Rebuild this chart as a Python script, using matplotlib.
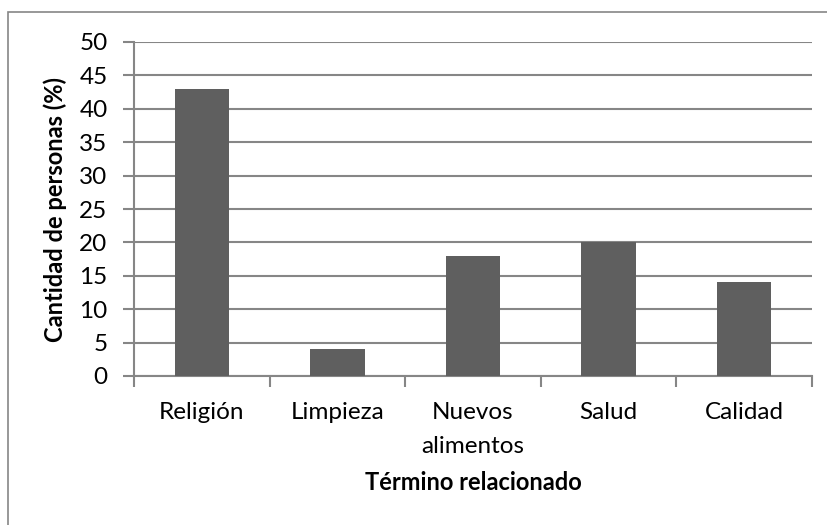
import matplotlib.pyplot as plt
import numpy as np
from matplotlib.patches import Rectangle

categories = ["Religión", "Limpieza", "Nuevos\nalimentos", "Salud", "Calidad"]
values = [43, 4, 18, 20, 14]
yticks = list(range(0, 51, 5))

plt.rcParams["font.family"] = ["Lato", "DejaVu Sans"]
grid_color = "#868686"
bar_color = "#5f5f5f"

fig = plt.figure(figsize=(8.28, 5.25), dpi=100)
ax = fig.add_axes([134 / 828, 1 - 376 / 525, (812 - 134) / 828, (376 - 42) / 525])

x = np.arange(len(categories))
ax.bar(x, values, width=0.4, color=bar_color, zorder=3)

ax.set_xlim(-0.5, len(categories) - 0.5)
ax.set_ylim(0, 50)
ax.set_yticks(yticks)
ax.set_yticklabels([str(v) for v in yticks], fontsize=17.5)
ax.set_xticks(x)
ax.set_xticklabels(categories, fontsize=17.5, linespacing=1.72)
ax.set_xticks(np.arange(-0.5, len(categories)), minor=True)
ax.tick_params(axis="x", which="major", length=0, pad=19)
ax.tick_params(axis="x", which="minor", length=8, width=1.5, color=grid_color)
ax.tick_params(axis="y", length=8, width=1.5, color=grid_color, pad=11)

ax.yaxis.grid(True, color=grid_color, linewidth=1.5, zorder=0)
for side in ["top", "right"]:
    ax.spines[side].set_visible(False)
for side in ["left", "bottom"]:
    ax.spines[side].set_color(grid_color)
    ax.spines[side].set_linewidth(1.5)

ax.set_xlabel("Término relacionado", fontsize=17, fontweight="bold", labelpad=10)
ax.set_ylabel("Cantidad de personas (%)", fontsize=17, fontweight="bold", labelpad=9)

fig.patches.append(Rectangle((8 / 828, -0.1), 1.2, 1 - 12 / 525 + 0.1,
                             transform=fig.transFigure, fill=False,
                             edgecolor=grid_color, linewidth=1.2))

fig.savefig("out.png", dpi=100)
